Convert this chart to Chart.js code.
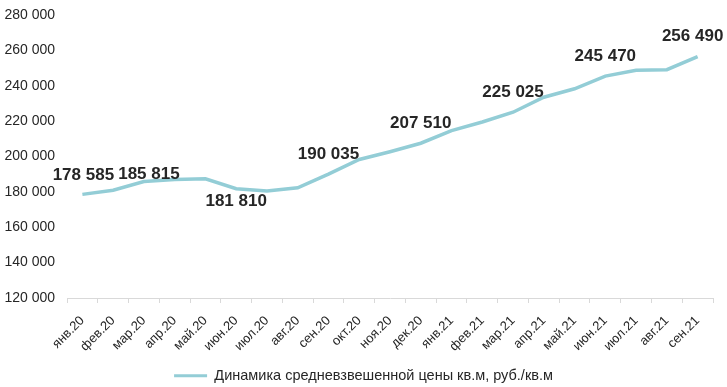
<!DOCTYPE html>
<html>
<head>
<meta charset="utf-8">
<script src="https://cdn.jsdelivr.net/npm/chart.js@4.4.1/dist/chart.umd.min.js"></script>
<style>
  html, body { margin: 0; padding: 0; background: #fff; }
  #wrap { width: 727px; height: 387px; }
</style>
</head>
<body>
<div id="wrap"><canvas id="myChart" width="727" height="387"></canvas></div>
<script>
var months = ["янв.20", "фев.20", "мар.20", "апр.20", "май.20", "июн.20", "июл.20", "авг.20",
  "сен.20", "окт.20", "ноя.20", "дек.20", "янв.21", "фев.21", "мар.21", "апр.21",
  "май.21", "июн.21", "июл.21", "авг.21", "сен.21"];

var prices = [178585, 180900, 185815, 187000, 187400, 181810, 180500, 182300,
  190035, 198300, 202700, 207510, 214600, 219500, 225025, 233500,
  238300, 245470, 248800, 249100, 256490];

// which points get a value label (null = no label)
var shownLabels = [178585, null, 185815, null, null, 181810, null, null,
  190035, null, null, 207510, null, null, 225025, null,
  null, 245470, null, null, 256490];

var legendText = "Динамика средневзвешенной цены кв.м, руб./кв.м";

var lineColor = "#93cdd6";
var textColor = "#262626";
var fontFam = "'Liberation Sans', Arial, sans-serif";

function fmt(v) {
  return String(v).replace(/\B(?=(\d{3})+(?!\d))/g, " ");
}

// label offsets from the point (dx, dy to text centre)
var labelShift = {
  0: [1, -19],
  2: [5, -7],
  5: [0, 13],
  20: [-5, -20]
};

var valueLabels = {
  id: "valueLabels",
  afterLayout: function (chart) {
    // legend sits a bit lower and right of centre in the original
    var lg = chart.legend;
    lg.left += 7;
    lg.right += 7;
    lg.top += 6;
    lg.bottom += 6;
  },
  afterDatasetsDraw: function (chart) {
    var ctx = chart.ctx;
    var meta = chart.getDatasetMeta(0);
    ctx.save();
    ctx.font = "bold 17px " + fontFam;
    ctx.fillStyle = textColor;
    ctx.textAlign = "center";
    ctx.textBaseline = "middle";
    shownLabels.forEach(function (v, i) {
      if (v === null) return;
      var pt = meta.data[i];
      var s = labelShift[i] || [0, -19.5];
      ctx.fillText(fmt(v), pt.x + s[0], pt.y + s[1]);
    });
    ctx.restore();
  }
};

var ctx = document.getElementById("myChart").getContext("2d");
var chart = new Chart(ctx, {
  type: "line",
  data: {
    labels: months,
    datasets: [
      {
        label: legendText,
        data: prices,
        borderColor: lineColor,
        backgroundColor: lineColor,
        borderWidth: 3.5,
        pointRadius: 0,
        tension: 0,
        fill: false
      }
    ]
  },
  options: {
    responsive: false,
    animation: false,
    layout: { padding: { top: 15, right: 14, left: 0, bottom: 0 } },
    plugins: {
      tooltip: { enabled: false },
      legend: {
        position: "bottom",
        labels: {
          color: textColor,
          font: { family: fontFam, size: 14.5 },
          boxWidth: 33,
          boxHeight: 3,
          padding: 2.5,
          generateLabels: function (c) {
            return [{
              text: legendText,
              fillStyle: lineColor,
              strokeStyle: lineColor,
              lineWidth: 0,
              fontColor: textColor,
              datasetIndex: 0
            }];
          }
        }
      }
    },
    scales: {
      x: {
        offset: true,
        grid: {
          display: true,
          drawOnChartArea: false,
          drawTicks: true,
          tickLength: 5,
          offset: true,
          color: "#d9d9d9"
        },
        border: { display: true, color: "#d9d9d9", width: 1 },
        ticks: {
          color: textColor,
          font: { family: fontFam, size: 13 },
          minRotation: 45,
          maxRotation: 45,
          autoSkip: false,
          padding: 10
        },
        afterFit: function (scale) { scale.height = 62; }
      },
      y: {
        min: 120000,
        max: 280000,
        grid: { display: false, drawTicks: false },
        border: { display: false },
        ticks: {
          stepSize: 20000,
          color: textColor,
          padding: 12,
          font: { family: fontFam, size: 14 },
          callback: function (v) { return fmt(v); }
        },
        afterFit: function (scale) {
          scale.width = 67;
          scale.paddingTop = 0;
          scale.paddingBottom = 0;
        }
      }
    }
  },
  plugins: [valueLabels]
});
</script>
</body>
</html>
